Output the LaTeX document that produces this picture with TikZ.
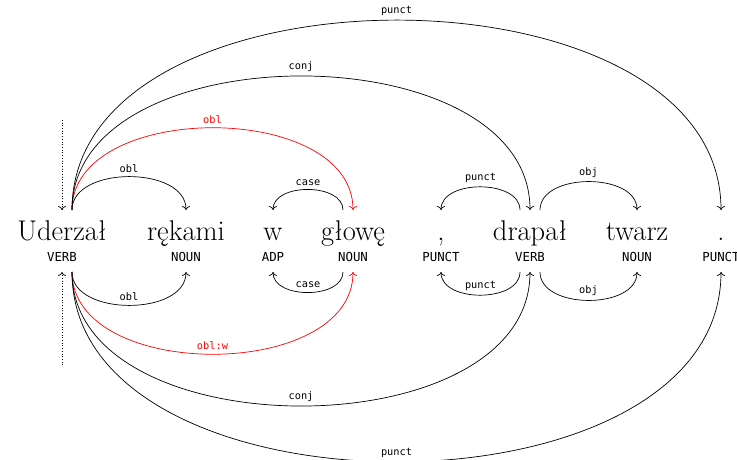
\documentclass[tikz,border=0pt]{standalone}
\usepackage{fontspec}
\setmonofont{DejaVu Sans Mono}
\usetikzlibrary{arrows.meta}
\begin{document}
\begin{tikzpicture}[x=1pt,y=1pt,line width=0.7pt,>={To[length=4pt,width=8pt]},
  word/.style={anchor=base,inner sep=0pt,text height=28pt,text depth=8pt,outer ysep=2pt,font=\fontsize{28.5}{34}\selectfont},
  tag/.style={anchor=base,inner sep=0pt,text height=9pt,text depth=3pt,outer ysep=8pt,font=\fontsize{12.4}{14}\ttfamily},
  rel/.style={midway,above,inner sep=4pt,font=\fontsize{10.3}{12}\ttfamily},
  up/.style={out=90,in=90},
  down/.style={out=-90,in=-90}]
\useasboundingbox (0,0) rectangle (737,459);

\node[word] (w1) at (62,219) {Uderzał};
\node[word] (w2) at (186,219) {rękami};
\node[word] (w3) at (273,219) {w};
\node[word] (w4) at (353,219) {głowę};
\node[word] (w5) at (441,219) {,};
\node[word] (w6) at (530,219) {drapał};
\node[word] (w7) at (637,219) {twarz};
\node[word] (w8) at (721,219) {.};

\node[tag] (t1) at (62,198) {VERB};
\node[tag] (t2) at (186,198) {NOUN};
\node[tag] (t3) at (273,198) {ADP};
\node[tag] (t4) at (353,198) {NOUN};
\node[tag] (t5) at (441,198) {PUNCT};
\node[tag] (t6) at (530,198) {VERB};
\node[tag] (t7) at (637,198) {NOUN};
\node[tag] (t8) at (721,198) {PUNCT};

\coordinate (rootup) at (62,339);
\coordinate (rootdn) at (62,94);
\draw[->,dotted] (rootup) -- (w1.north);
\draw[->,dotted] (rootdn) -- (t1.south);

% above the words
\draw[->] ([xshift=10pt]w1.north) to[up] node[rel] {obl} (w2.north);
\draw[->,red] ([xshift=10pt]w1.north) to[up] node[rel] {obl} (w4.north);
\draw[->] ([xshift=10pt]w1.north) to[up] node[rel] {conj} (w6.north);
\draw[->] ([xshift=10pt]w1.north) to[up] node[rel] {punct} (w8.north);
\draw[->] ([xshift=-10pt]w4.north) to[up] node[rel] {case} (w3.north);
\draw[->] ([xshift=-10pt]w6.north) to[up] node[rel] {punct} (w5.north);
\draw[->] ([xshift=10pt]w6.north) to[up] node[rel] {obj} (w7.north);

% below the tags
\draw[->] ([xshift=10pt]t1.south) to[down] node[rel] {obl} (t2.south);
\draw[->,red] ([xshift=10pt]t1.south) to[down] node[rel] {obl:w} (t4.south);
\draw[->] ([xshift=10pt]t1.south) to[down] node[rel] {conj} (t6.south);
\draw[->] ([xshift=10pt]t1.south) to[down] node[rel] {punct} (t8.south);
\draw[->] ([xshift=-10pt]t4.south) to[down] node[rel] {case} (t3.south);
\draw[->] ([xshift=-10pt]t6.south) to[down] node[rel] {punct} (t5.south);
\draw[->] ([xshift=10pt]t6.south) to[down] node[rel] {obj} (t7.south);
\end{tikzpicture}
\end{document}
